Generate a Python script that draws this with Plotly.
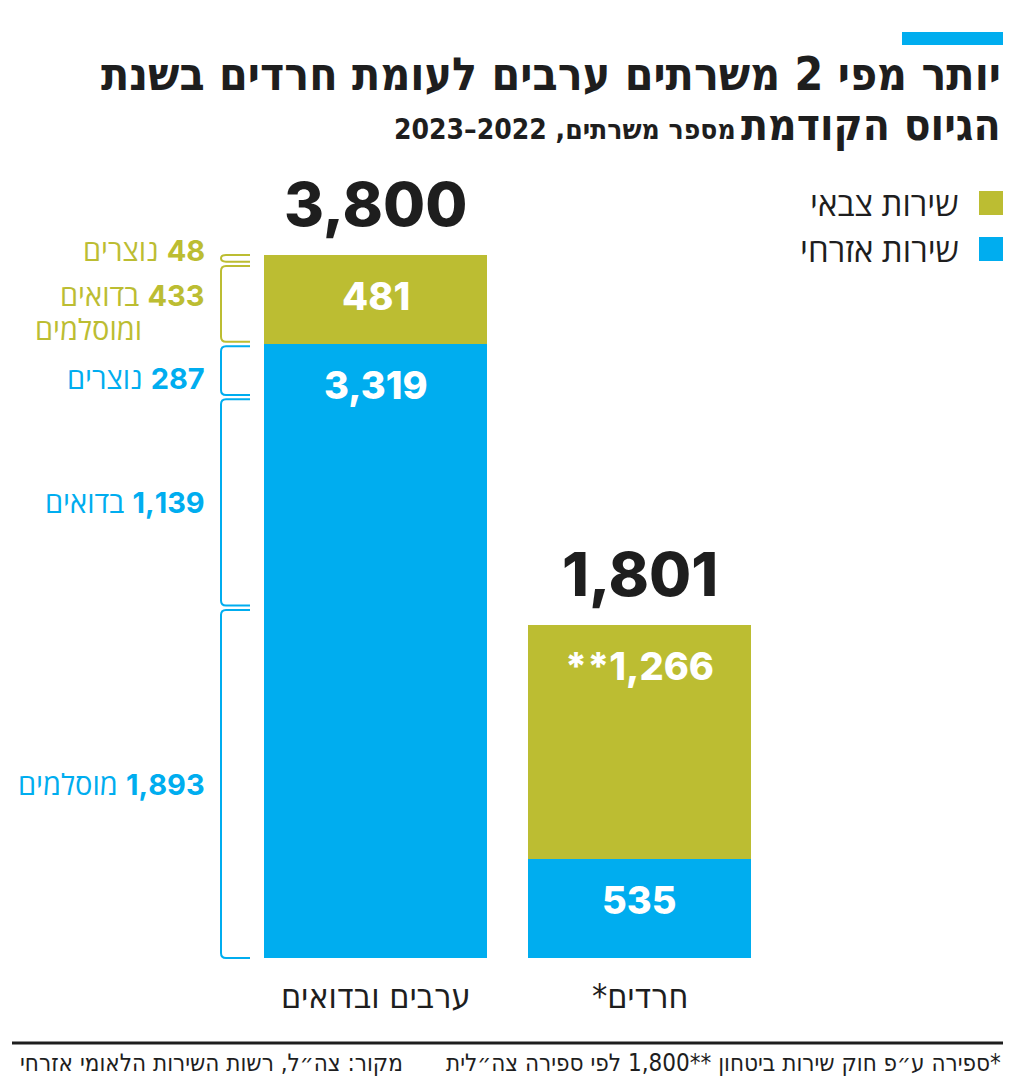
import plotly.graph_objects as go

# ---------------- data ----------------
groups = ["ערבים ובדואים", "חרדים*"]
civil = [3319, 535]          # שירות אזרחי
military = [481, 1266]       # שירות צבאי
totals = [3800, 1801]
military_labels = ["481", "**1,266"]
civil_labels = ["3,319", "535"]

# breakdown of first group (top to bottom)
brk_names = ["נוצרים", "בדואים", "נוצרים", "בדואים", "מוסלמים"]
brk_values = [48, 433, 287, 1139, 1893]
brk_service = ["military", "military", "civil", "civil", "civil"]

legend_names = ["שירות צבאי", "שירות אזרחי"]

title_l1 = "יותר מפי 2 משרתים ערבים לעומת חרדים בשנת"
title_l2 = "הגיוס הקודמת"
subtitle = "מספר משרתים, 2022–2023"
note = "*ספירה ע״פ חוק שירות ביטחון **1,800 לפי ספירה צה״לית"
source = "מקור: צה״ל, רשות השירות הלאומי אזרחי"

# ---------------- style ----------------
OLIVE = "#bcbd32"
BLUE = "#00adef"
DARK = "#1e1e1e"
OFF = 8                      # page body margin
W, H = 1008, 1072            # figure size
PX_PER_UNIT = 0.185
BASE_PX = 958                # page px of bar base
Y_HI = (BASE_PX - OFF) / PX_PER_UNIT
Y_LO = Y_HI - H / PX_PER_UNIT
BAR_STEP = 264
X0_PX = 375.5
X_LO = -(X0_PX - OFF) / BAR_STEP
X_HI = X_LO + W / BAR_STEP


def px(p):
    return (p - OFF) / W


def py(p):
    return 1 - (p - OFF) / H


NUM_FONT = "Inter, 'Open Sans', 'Liberation Sans', sans-serif"
HEB_FONT = "'Open Sans', 'Liberation Sans', 'DejaVu Sans', sans-serif"
COND_FONT = "'DejaVu Sans Condensed', 'Liberation Sans Narrow', 'Liberation Sans', sans-serif"
RLE, PDF, LRM = "\u202b", "\u202c", "\u200e"


def rtl(s):
    return RLE + s + PDF


xs = list(range(len(groups)))
colors = {"military": OLIVE, "civil": BLUE}

fig = go.Figure()
fig.add_trace(go.Bar(x=xs, y=civil, width=0.845, marker=dict(color=BLUE, line_width=0),
                     name=legend_names[1], hoverinfo="skip"))
fig.add_trace(go.Bar(x=xs, y=military, width=0.845, marker=dict(color=OLIVE, line_width=0),
                     name=legend_names[0], hoverinfo="skip"))

ann = []
shapes = []

# totals above bars
for i, t in enumerate(totals):
    ann.append(dict(x=xs[i], y=t, xref="x", yref="y", text=f"{t:,}", showarrow=False,
                    yanchor="bottom", yshift=12,
                    font=dict(family=NUM_FONT, size=61, color=DARK, weight=800)))

# segment labels
for i in range(len(groups)):
    ann.append(dict(x=xs[i], y=civil[i], xref="x", yref="y", text=civil_labels[i], showarrow=False,
                    yanchor="middle", yshift=-41,
                    font=dict(family=NUM_FONT, size=38, color="white", weight=800)))
    ann.append(dict(x=xs[i], y=civil[i] + military[i], xref="x", yref="y", text=military_labels[i],
                    showarrow=False, yanchor="middle", yshift=-41,
                    font=dict(family=NUM_FONT, size=38, color="white", weight=800)))

# category labels
for i, g in enumerate(groups):
    ann.append(dict(x=xs[i], y=0, xref="x", yref="y", text=rtl(g), showarrow=False,
                    yanchor="top", yshift=-16,
                    font=dict(family=COND_FONT, size=34, color=DARK)))

# brackets for breakdown
BX_L, BX_R = px(221), px(250)
R_PX = 5
rx = R_PX / W
ry = R_PX / PX_PER_UNIT
top = totals[0]
bounds = []
for v in brk_values:
    bounds.append((top, top - v))
    top -= v
GAP = 2.2 / PX_PER_UNIT
label_shift = [8, 0, -8, 0, 0]
LBL_SIZE = 29
for k, (hi, lo) in enumerate(bounds):
    y1 = hi - (GAP if k > 0 else 0)
    y2 = lo + (GAP if k < len(bounds) - 1 else 0)
    col = colors[brk_service[k]]
    r_y = min(ry, (y1 - y2) / 2)
    path = (f"M {BX_R},{y1} L {BX_L + rx},{y1} Q {BX_L},{y1} {BX_L},{y1 - r_y} "
            f"L {BX_L},{y2 + r_y} Q {BX_L},{y2} {BX_L + rx},{y2} L {BX_R},{y2}")
    shapes.append(dict(type="path", path=path, xref="paper", yref="y",
                       line=dict(color=col, width=2)))
    mid = (y1 + y2) / 2
    num = f"{brk_values[k]:,}"
    text = f"{brk_names[k]}{LRM} <b>{num}</b>"
    if k == 1:
        ann.append(dict(x=px(207), y=mid, xref="paper", yref="y", xanchor="right",
                        text=text, showarrow=False, yshift=8,
                        font=dict(family=NUM_FONT, size=LBL_SIZE, color=col)))
        ann.append(dict(x=px(144), y=mid, xref="paper", yref="y", xanchor="right",
                        text="ומוסלמים", showarrow=False, yshift=-26,
                        font=dict(family=NUM_FONT, size=LBL_SIZE, color=col)))
    else:
        ann.append(dict(x=px(207), y=mid, xref="paper", yref="y", xanchor="right",
                        text=text, showarrow=False, yshift=label_shift[k],
                        font=dict(family=NUM_FONT, size=LBL_SIZE, color=col)))

# legend
for j, (name, col) in enumerate(zip(legend_names, [OLIVE, BLUE])):
    yc = 203 + j * 46
    shapes.append(dict(type="rect", xref="paper", yref="paper",
                       x0=px(979), x1=px(1003), y0=py(yc - 12), y1=py(yc + 12),
                       fillcolor=col, line_width=0))
    ann.append(dict(x=px(961), y=py(yc), xref="paper", yref="paper", xanchor="right",
                    yanchor="middle", text=rtl(name), showarrow=False,
                    font=dict(family=HEB_FONT, size=33, color=DARK)))

# title block
shapes.append(dict(type="rect", xref="paper", yref="paper", x0=px(902), x1=px(1003),
                   y0=py(32), y1=py(45), fillcolor=BLUE, line_width=0))
ann.append(dict(x=px(1003), y=py(74), xref="paper", yref="paper", xanchor="right",
                yanchor="middle", text=rtl(title_l1), showarrow=False,
                font=dict(family=COND_FONT, size=46, color=DARK, weight=700)))
ann.append(dict(x=px(1003), y=py(125), xref="paper", yref="paper", xanchor="right",
                yanchor="middle", text=rtl(title_l2), showarrow=False,
                font=dict(family=COND_FONT, size=44, color=DARK, weight=700)))
ann.append(dict(x=px(738), y=py(129), xref="paper", yref="paper", xanchor="right",
                yanchor="middle", text=rtl(subtitle), showarrow=False,
                font=dict(family=COND_FONT, size=28, color=DARK, weight=700)))

# footer
shapes.append(dict(type="line", xref="paper", yref="paper", x0=px(12), x1=px(1003),
                   y0=py(1043), y1=py(1043), line=dict(color=DARK, width=3)))
ann.append(dict(x=px(1003), y=py(1063), xref="paper", yref="paper", xanchor="right",
                yanchor="middle", text=rtl(note), showarrow=False,
                font=dict(family=COND_FONT, size=24, color=DARK)))
ann.append(dict(x=px(405), y=py(1063), xref="paper", yref="paper", xanchor="right",
                yanchor="middle", text=rtl(source), showarrow=False,
                font=dict(family=COND_FONT, size=24, color=DARK)))

fig.update_layout(
    width=W, height=H, barmode="stack", showlegend=False,
    margin=dict(l=0, r=0, t=0, b=0),
    paper_bgcolor="white", plot_bgcolor="white",
    xaxis=dict(range=[X_LO, X_HI], visible=False, fixedrange=True),
    yaxis=dict(range=[Y_LO, Y_HI], visible=False, fixedrange=True),
    annotations=ann, shapes=shapes,
)
fig.write_html("out.html", config={"displayModeBar": False})
